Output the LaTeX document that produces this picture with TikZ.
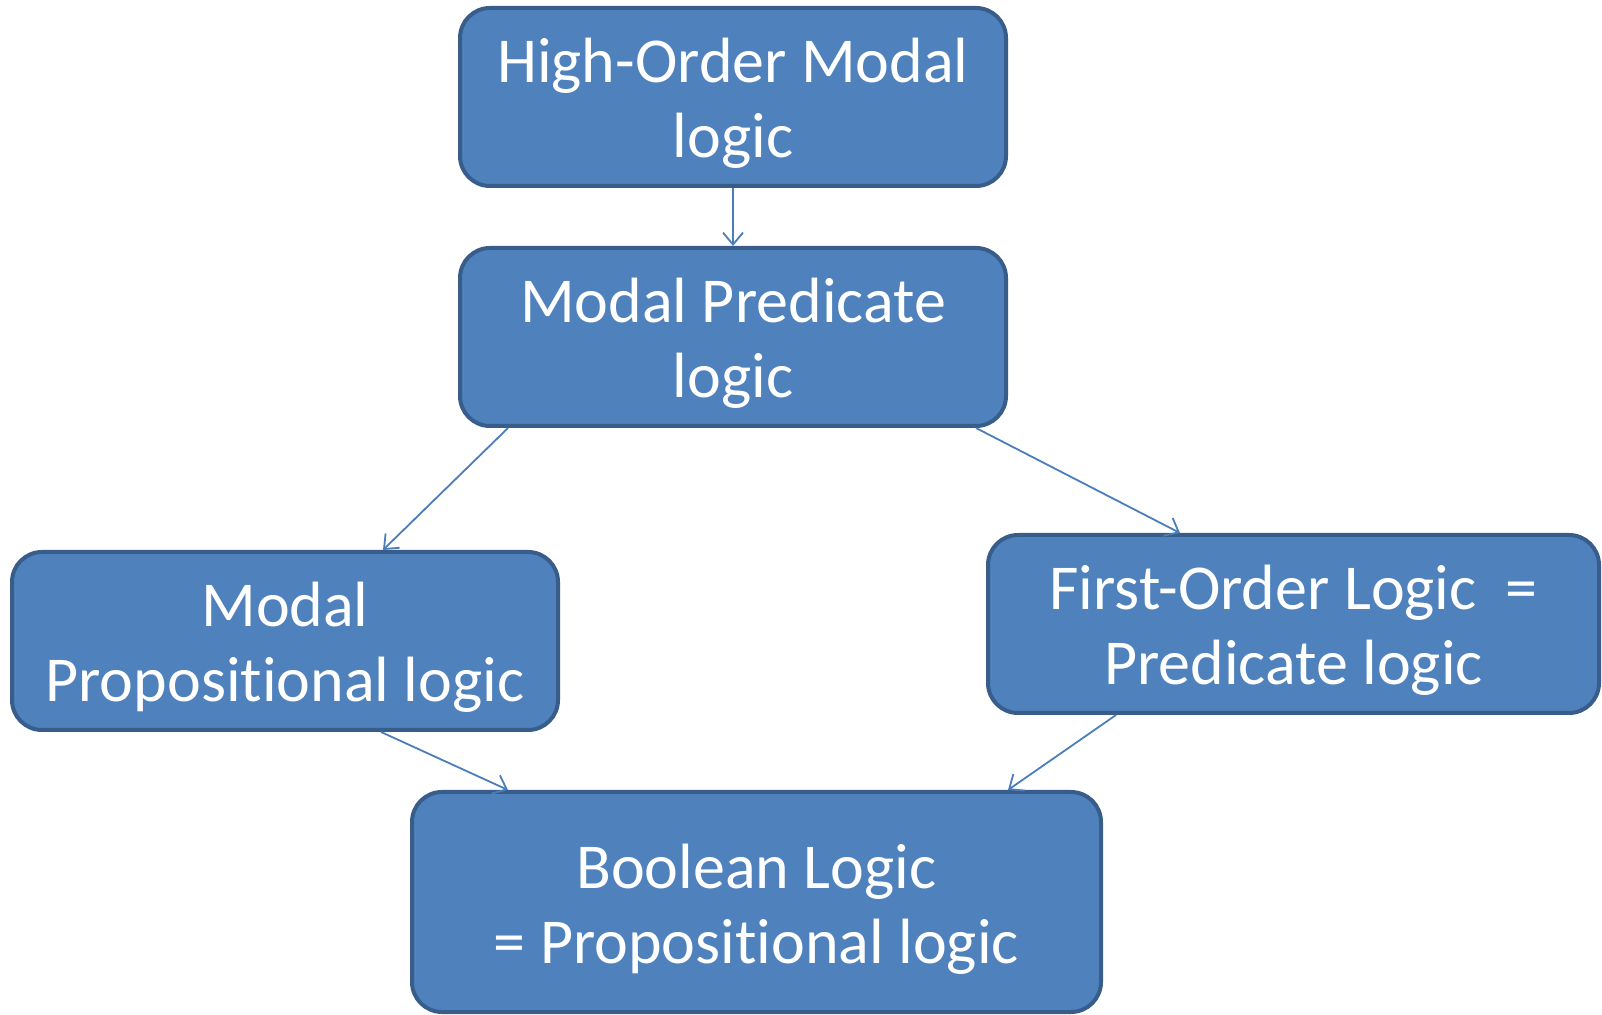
\documentclass[tikz,border=0pt]{standalone}
\usepackage{fontspec}
\setmainfont{Carlito}[Ligatures=NoCommon]
\usetikzlibrary{arrows.meta}
\definecolor{boxfill}{HTML}{4F81BD}
\definecolor{boxline}{HTML}{385D8A}
\definecolor{arrowcol}{HTML}{4A7EBB}
\newcommand{\toppad}{\rule{0pt}{29pt}}
\tikzset{
  logicbox/.style={draw=boxline, line width=2pt, fill=boxfill, rounded corners=15pt,
    text=white, align=center, inner sep=0pt,
    font=\fontsize{32}{37.5}\selectfont},
  link/.style={draw=arrowcol, line width=0.9pt, -{Straight Barb[length=6pt,width=10pt,line width=0.9pt]}}
}
\begin{document}
\begin{tikzpicture}[x=0.5pt,y=-0.5pt]
\useasboundingbox (0,0) rectangle (1602,1015);
\node[logicbox, minimum width=273pt, minimum height=89pt] (b1) at (733,97) {\toppad High-Order Modal\\logic};
\node[logicbox, minimum width=273pt, minimum height=89pt] (b2) at (733,337) {\toppad Modal Predicate\\logic};
\node[logicbox, minimum width=273pt, minimum height=89pt] (b3) at (285,641) {\toppad Modal\\Propositional logic};
\node[logicbox, minimum width=305.5pt, minimum height=89pt] (b4) at (1293.5,624) {\toppad First-Order Logic~~=\\Predicate logic};
\node[logicbox, minimum width=344.5pt, minimum height=110pt] (b5) at (756.5,902) {\toppad Boolean Logic\\= Propositional logic};
\draw[link] (b1.south) -- (b2.north);
\draw[link] ([xshift=-112.5pt]b2.south) -- ([xshift=49pt]b3.north);
\draw[link] ([xshift=121.5pt]b2.south) -- ([xshift=-56.75pt]b4.north);
\draw[link] ([xshift=48pt]b3.south) -- ([xshift=-124.25pt]b5.north);
\draw[link] ([xshift=-88.75pt]b4.south) -- ([xshift=125.75pt]b5.north);
\end{tikzpicture}
\end{document}
